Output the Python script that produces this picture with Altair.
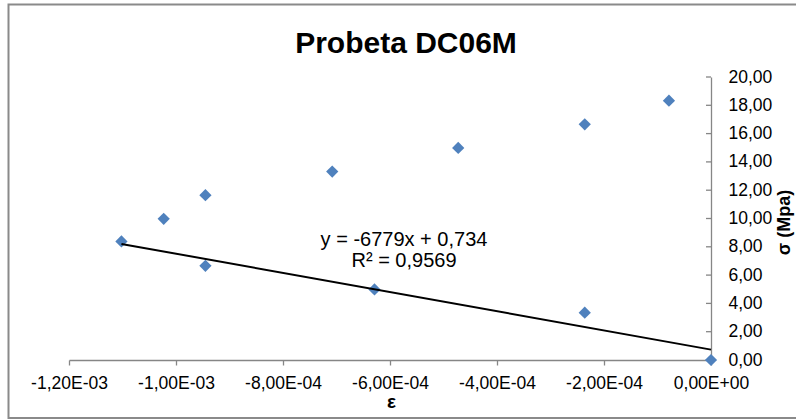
import altair as alt
import pandas as pd

# ---------------- data ----------------
title_text = "Probeta DC06M"
x_title = "ε"
y_title = "σ (Mpa)"

upper_strain = [-1.023e-3, -0.945e-3, -0.708e-3, -0.4725e-3, -0.236e-3, -0.0786e-3]
upper_stress = [9.98, 11.65, 13.32, 14.99, 16.66, 18.33]
lower_strain = [-1.102e-3, -0.945e-3, -0.629e-3, -0.236e-3, 0.0]
lower_stress = [8.38, 6.66, 4.99, 3.34, 0.0]

trend_slope = [-6779]
trend_intercept = [0.734]
trend_r2 = [0.9569]

x_tick_values = [-0.0012, -0.001, -0.0008, -0.0006, -0.0004, -0.0002, 0.0]
x_tick_labels = ["-1,20E-03", "-1,00E-03", "-8,00E-04", "-6,00E-04",
                 "-4,00E-04", "-2,00E-04", "0,00E+00"]
y_tick_values = [0, 2, 4, 6, 8, 10, 12, 14, 16, 18, 20]
y_tick_labels = ["0,00", "2,00", "4,00", "6,00", "8,00", "10,00",
                 "12,00", "14,00", "16,00", "18,00", "20,00"]

# ---------------- layout / style ----------------
W, H = 642, 283
PAD_L, PAD_T = 69, 77
FONT = "Liberation Sans"
AXIS_GREY = "#868686"
BLUE = "#4F81BD"


def label_expr(values, labels):
    expr = "''"
    for v, l in reversed(list(zip(values, labels))):
        expr = f"(abs(datum.value - ({v!r})) < 1e-9 ? '{l}' : {expr})"
    return expr


points = pd.DataFrame({
    "strain": upper_strain + lower_strain,
    "stress": upper_stress + lower_stress,
})

x0, x1 = min(lower_strain), max(lower_strain)
trend = pd.DataFrame({
    "strain": [x0, x1],
    "stress": [trend_slope[0] * x0 + trend_intercept[0],
               trend_slope[0] * x1 + trend_intercept[0]],
})

eq_text = (f"y = {trend_slope[0]}x + {str(trend_intercept[0]).replace('.', ',')}\n"
           f"R² = {str(trend_r2[0]).replace('.', ',')}")
eq_df = pd.DataFrame({"label": [eq_text]})
ticks_df = pd.DataFrame({"stress": y_tick_values})

x_enc = alt.X(
    "strain:Q",
    scale=alt.Scale(domain=[-0.0012, 0.0], nice=False, zero=False),
    axis=alt.Axis(
        orient="bottom", grid=False, values=x_tick_values,
        labelExpr=label_expr(x_tick_values, x_tick_labels),
        domainColor=AXIS_GREY, domainWidth=1.3, tickColor=AXIS_GREY, tickWidth=1.3,
        tickSize=5, labelPadding=9.5, labelFont=FONT, labelFontSize=17.5,
        labelColor="black", labelFlush=False, labelOverlap=False,
        title=x_title, titleFont=FONT, titleFontSize=19, titleFontWeight="bold",
        titleColor="black", titleX=322, titleY=47.5, titleBaseline="alphabetic",
        titleAlign="center",
    ),
)
y_enc = alt.Y(
    "stress:Q",
    scale=alt.Scale(domain=[0, 20], nice=False, zero=True),
    axis=alt.Axis(
        orient="right", grid=False, values=y_tick_values, ticks=False, tickSize=0,
        labelExpr=label_expr(y_tick_values, y_tick_labels),
        domainColor=AXIS_GREY, domainWidth=1.3, labelPadding=17,
        labelFont=FONT, labelFontSize=17.5, labelColor="black",
        labelAlign="left", labelBaseline="middle", labelFlush=False, labelOverlap=False,
        title=y_title, titleFont=FONT, titleFontSize=18, titleFontWeight="bold",
        titleColor="black", titleAngle=270, titleX=78, titleY=145,
        titleBaseline="alphabetic", titleAlign="center",
    ),
)

border = alt.Chart(pd.DataFrame({"a": [0]})).mark_rect(
    fillOpacity=0, stroke="#8a8a8a", strokeWidth=2
).encode(
    x=alt.value(8.5 - PAD_L), x2=alt.value(800 - PAD_L),
    y=alt.value(4.5 - PAD_T), y2=alt.value(418 - PAD_T),
)

y_ticks = alt.Chart(ticks_df).mark_rule(color=AXIS_GREY, strokeWidth=1.3).encode(
    y=y_enc, x=alt.value(W - 5), x2=alt.value(W)
)

pts = alt.Chart(points).mark_point(
    shape="diamond", filled=True, size=150, color=BLUE, opacity=1
).encode(x=x_enc, y=y_enc)

line = alt.Chart(trend).mark_line(color="black", strokeWidth=2).encode(x=x_enc, y=y_enc)

eq = alt.Chart(eq_df).mark_text(
    font=FONT, fontSize=20, color="black", align="center", baseline="alphabetic",
    lineBreak="\n", lineHeight=20.7
).encode(text="label:N", x=alt.value(335), y=alt.value(169))

chart = alt.layer(border, y_ticks, pts, line, eq).properties(
    width=W, height=H,
    padding={"left": PAD_L, "top": PAD_T, "right": 796 - PAD_L - W, "bottom": 420 - PAD_T - H},
    autosize="none",
    view=alt.ViewBackground(strokeOpacity=0, strokeWidth=0),
    title=alt.TitleParams(
        text=title_text, font=FONT, fontSize=30, fontWeight="bold", color="black",
        anchor="middle", frame="group", offset=0, dx=16, dy=55,
    ),
).configure_view(stroke="transparent", strokeWidth=0).configure(background="white")

chart.save("out.html", embed_options={"renderer": "svg", "actions": False})
